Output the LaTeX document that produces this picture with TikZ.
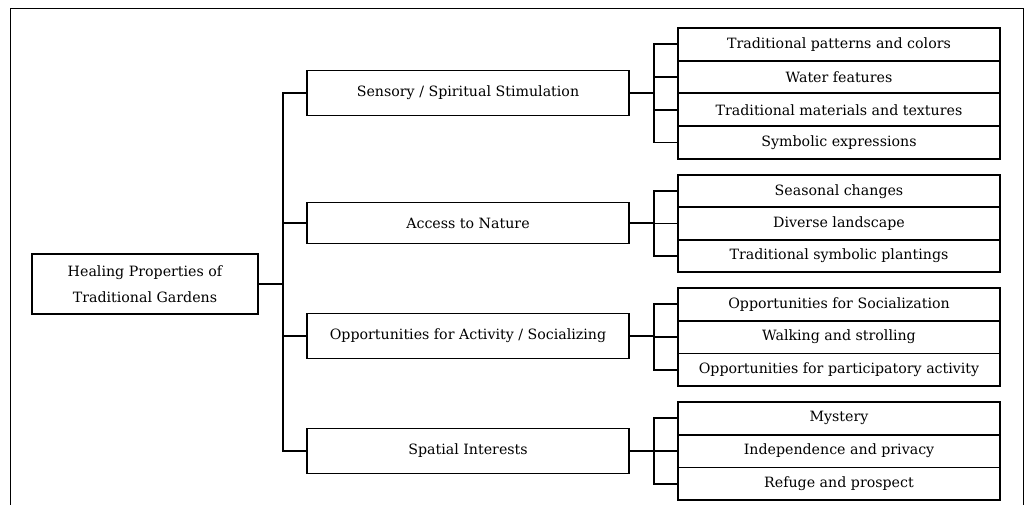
\documentclass[tikz,border=0pt]{standalone}
\usepackage{fontspec}
\setmainfont{DejaVu Serif}
\usetikzlibrary{positioning}
\tikzstyle{catbox} = [rectangle, draw=black, line width=1.8pt, minimum width=322pt, minimum height=45pt, inner sep=0pt, outer sep=0pt, text centered]
\tikzstyle{leafbox} = [rectangle, draw=black, line width=1.8pt, minimum width=322pt, minimum height=32.7pt, inner sep=0pt, outer sep=0pt, text centered]
\tikzstyle{link} = [line width=1.8pt]

\begin{document}
\begin{tikzpicture}[x=1pt, y=-1pt, font=\fontsize{14.2pt}{17pt}\selectfont]
  \useasboundingbox (0,0) rectangle (1031,505);
  \draw [line width=1pt] (10.5,505) -- (10.5,9) -- (1023.5,9) -- (1023.5,505);

  \node (root) [catbox, minimum width=226pt, minimum height=60pt, align=center, font=\fontsize{14.2pt}{26pt}\selectfont] at (145,284) {Healing Properties of\\Traditional Gardens};

  \node (sens) [catbox] at (468,93) {Sensory / Spiritual Stimulation};
  \node (nat) [catbox, minimum height=41pt] at (468,223) {Access to Nature};
  \node (act) [catbox] at (468,336) {Opportunities for Activity / Socializing};
  \node (spa) [catbox] at (468,451) {Spatial Interests};

  \foreach \t [count=\i] in {Traditional patterns and colors, Water features, Traditional materials and textures, Symbolic expressions}
    \node (sens\i) [leafbox] at (839,28+32.7*\i-16.35) {\t};
  \foreach \t [count=\i] in {Seasonal changes, Diverse landscape, Traditional symbolic plantings}
    \node (nat\i) [leafbox] at (839,175+32.4*\i-16.2) {\t};
  \foreach \t [count=\i] in {Opportunities for Socialization, Walking and strolling, Opportunities for participatory activity}
    \node (act\i) [leafbox] at (839,288+32.7*\i-16.35) {\t};
  \foreach \t [count=\i] in {Mystery, Independence and privacy, Refuge and prospect}
    \node (spa\i) [leafbox] at (839,402+32.7*\i-16.35) {\t};

  \foreach \m in {sens,nat,act,spa}
    \draw [link] (root.east) -- ++(25,0) |- (\m.west);

  \foreach \l in {1,...,4}
    \draw [link] (sens.east) -- ++(25,0) |- (sens\l.west);
  \foreach \l in {1,2,3}
  {
    \draw [link] (nat.east) -- ++(25,0) |- (nat\l.west);
    \draw [link] (act.east) -- ++(25,0) |- (act\l.west);
    \draw [link] (spa.east) -- ++(25,0) |- (spa\l.west);
  }
\end{tikzpicture}
\end{document}
